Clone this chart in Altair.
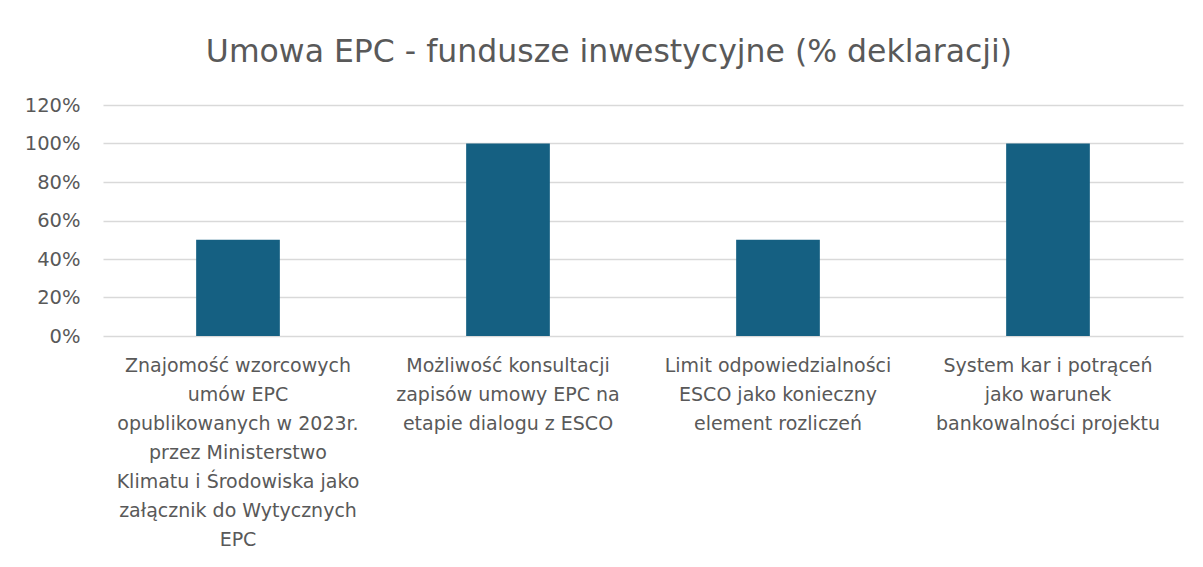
import altair as alt
import pandas as pd

categories = [
    "Znajomość wzorcowych|umów EPC|opublikowanych w 2023r.|przez Ministerstwo|Klimatu i Środowiska jako|załącznik do Wytycznych|EPC",
    "Możliwość konsultacji|zapisów umowy EPC na|etapie dialogu z ESCO",
    "Limit odpowiedzialności|ESCO jako konieczny|element rozliczeń",
    "System kar i potrąceń|jako warunek|bankowalności projektu",
]
values = [0.5, 1.0, 0.5, 1.0]
y_ticks = [0, 0.2, 0.4, 0.6, 0.8, 1.0, 1.2]

df = pd.DataFrame({"kategoria": categories, "wartosc": values})

FONT = "DejaVu Sans"
GRAY = "#595959"

chart = (
    alt.Chart(df, view=alt.ViewBackground(stroke="transparent", strokeWidth=0, strokeOpacity=0))
    .mark_bar(color="#156082")
    .encode(
        x=alt.X(
            "kategoria:N",
            sort=categories,
            title=None,
            scale=alt.Scale(paddingInner=0.69, paddingOuter=0.345),
            axis=alt.Axis(
                labelAngle=0,
                labelExpr="split(datum.label, '|')",
                labelFont=FONT,
                labelFontSize=19,
                labelColor=GRAY,
                labelLineHeight=29,
                labelPadding=20,
                labelLimit=400,
                ticks=False,
                domain=False,
                grid=False,
            ),
        ),
        y=alt.Y(
            "wartosc:Q",
            title=None,
            scale=alt.Scale(domain=[0, 1.2], nice=False),
            axis=alt.Axis(
                values=y_ticks,
                format=".0%",
                labelFont=FONT,
                labelFontSize=19.5,
                labelColor=GRAY,
                labelPadding=23,
                ticks=False,
                domain=False,
                grid=True,
                gridColor="#d9d9d9",
                gridWidth=1.3,
            ),
        ),
    )
    .properties(
        width=1080,
        height=231,
        title=alt.TitleParams(
            "Umowa EPC - fundusze inwestycyjne (% deklaracji)",
            font=FONT,
            fontSize=31.5,
            fontWeight="normal",
            color=GRAY,
            anchor="middle",
            dx=-34,
            offset=27,
        ),
        autosize=alt.AutoSizeParams(type="none"),
        padding={"left": 95, "top": 97, "right": 10, "bottom": 220},
    )
    .configure_view(strokeWidth=0, stroke="transparent", strokeOpacity=0)
    .configure(background="white")
)

chart.save("out.html", embed_options={"renderer": "svg", "actions": False})
